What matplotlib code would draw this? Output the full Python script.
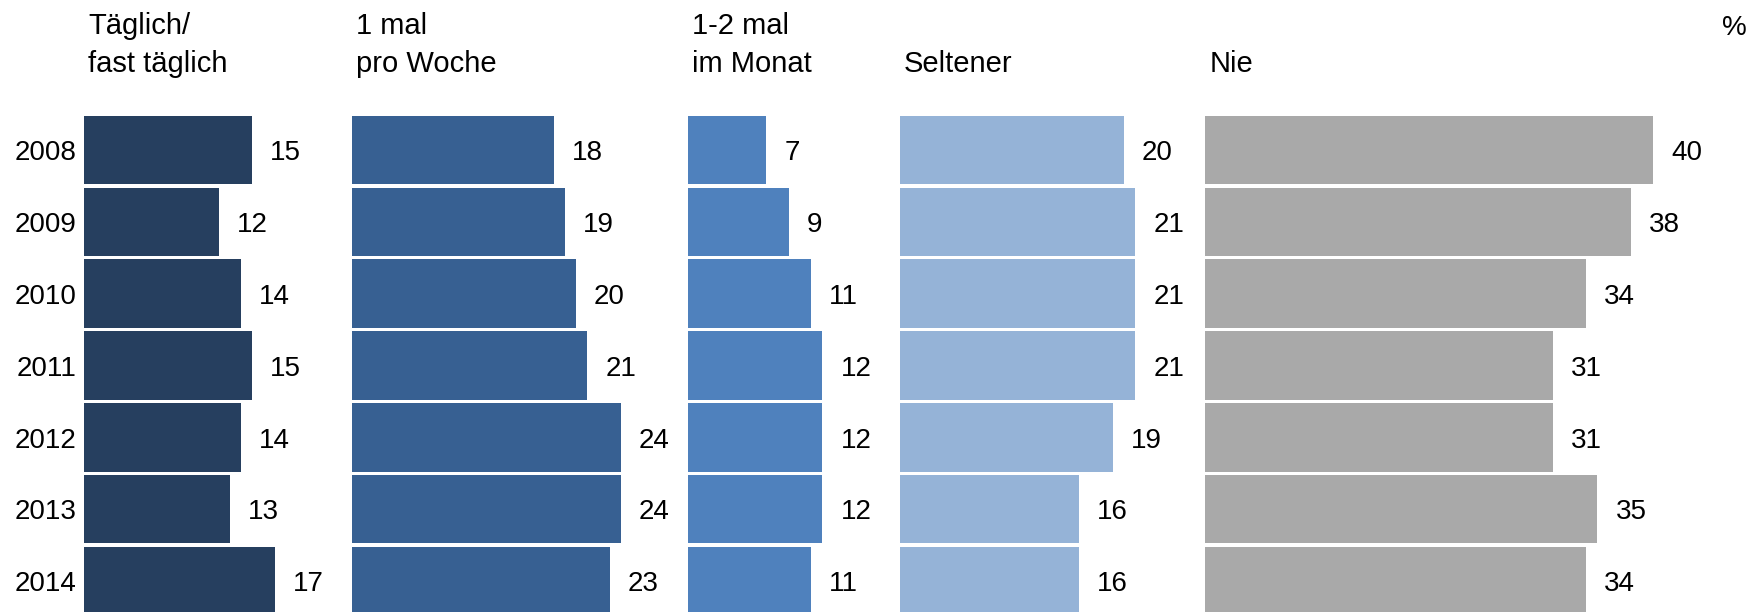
import matplotlib.pyplot as plt

plt.rcParams['font.family'] = ['Liberation Sans', 'DejaVu Sans']

# --- data ---
years = ["2008", "2009", "2010", "2011", "2012", "2013", "2014"]
taeglich = [15, 12, 14, 15, 14, 13, 17]
pro_woche = [18, 19, 20, 21, 24, 24, 23]
im_monat = [7, 9, 11, 12, 12, 12, 11]
seltener = [20, 21, 21, 21, 19, 16, 16]
nie = [40, 38, 34, 31, 31, 35, 34]

headers = [["Täglich/", "fast täglich"], ["1 mal", "pro Woche"],
           ["1-2 mal", "im Monat"], ["Seltener"], ["Nie"]]
series = [taeglich, pro_woche, im_monat, seltener, nie]
colors = ["#263F5F", "#376092", "#4F81BD", "#95B3D7", "#A9A9A9"]

# --- layout (pixels) ---
W, H = 1758, 612
PX_PER_UNIT = 11.2
colLeft = [84.3, 352, 688, 900, 1205.4]
row0, pitch = 150, 71.83
lineBaselines = [34.3, 72.3]

fig = plt.figure(figsize=(W / 100, H / 100), dpi=100)

for i, (vals, color) in enumerate(zip(series, colors)):
  right = colLeft[i + 1] if i + 1 < len(colLeft) else W
  widthPx = right - colLeft[i]
  ax = fig.add_axes([colLeft[i] / W, 0, widthPx / W, 1])
  ax.set_xlim(0, widthPx / PX_PER_UNIT)
  ax.set_ylim((H - row0) / pitch, -row0 / pitch)
  ax.axis('off')

  y = list(range(len(years)))
  ax.barh(y, vals, height=0.955, color=color, linewidth=0)

  for yi, v in zip(y, vals):
    ax.annotate(str(v), (v, yi), xytext=(13, -7.4), textcoords='offset points',
                ha='left', va='baseline', fontsize=20, annotation_clip=False)

  if i == 0:
    for yi, yr in zip(y, years):
      ax.annotate(yr, (0, yi), xytext=(-5.5, -7.4), textcoords='offset points',
                  ha='right', va='baseline', fontsize=20, annotation_clip=False)

  # header lines, bottom-aligned on the second line
  lines = headers[i]
  bases = lineBaselines[-len(lines):]
  for txt, base in zip(lines, bases):
    fig.text((colLeft[i] + 4) / W, 1 - base / H, txt, fontsize=21,
             ha='left', va='baseline')

fig.text(1721.7 / W, 1 - 35 / H, "%", fontsize=20, ha='left', va='baseline')

fig.savefig("out.png", dpi=100)
